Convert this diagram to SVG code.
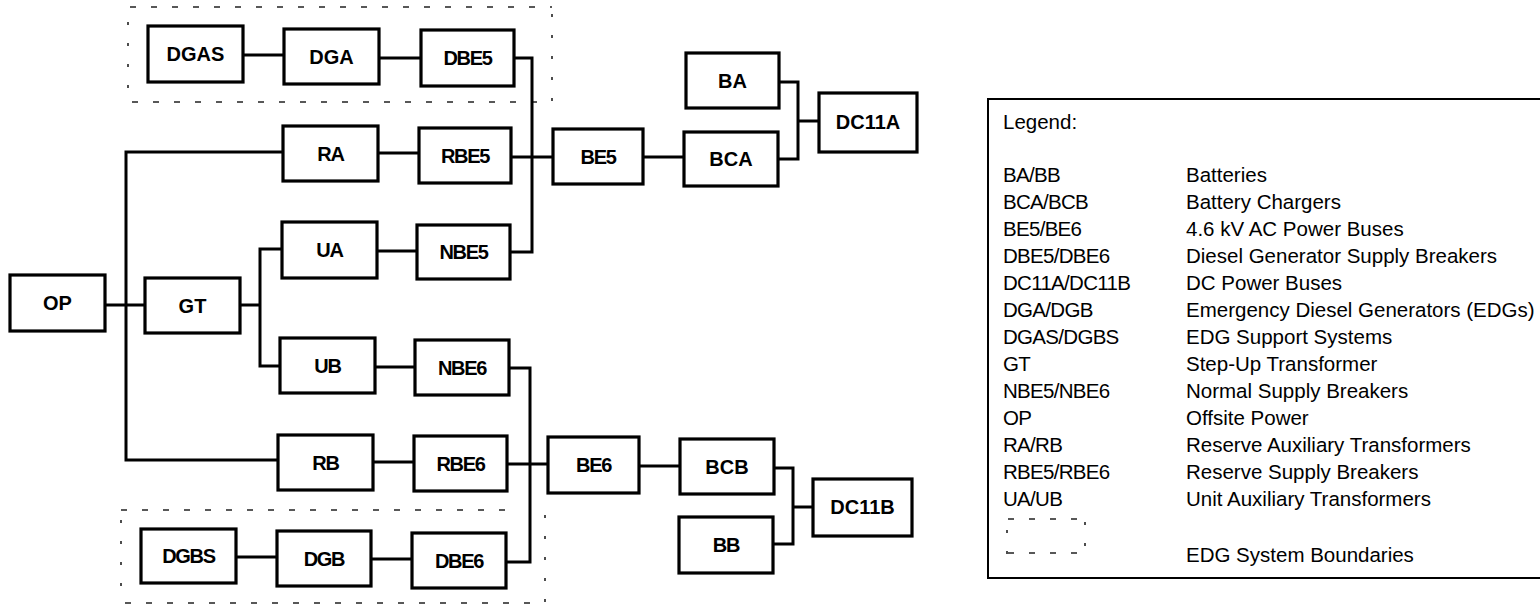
<svg xmlns="http://www.w3.org/2000/svg" width="1540" height="607" viewBox="0 0 1540 607">
<style>
.n rect{fill:#fff;stroke:#000;stroke-width:3.2}
.n text{font-family:"Liberation Sans",Arial,sans-serif;font-weight:bold;font-size:20px;text-anchor:middle;fill:#000}
.t{letter-spacing:-1.3px}
.c{fill:none;stroke:#000;stroke-width:3}
.dh{stroke:#222;stroke-width:1.6;stroke-dasharray:6 15;fill:none}
.dv{stroke:#222;stroke-width:1.6;stroke-dasharray:3 18;fill:none}
.lg text{font-family:"Liberation Sans",Arial,sans-serif;font-size:20.5px;fill:#000}
.lg .k{letter-spacing:-0.7px}
</style>
<rect width="1540" height="607" fill="#fff"/>
<g id="boundaries">
<line class="dh" x1="130" y1="7" x2="552" y2="7"/>
<line class="dh" x1="132" y1="102" x2="552" y2="102"/>
<line class="dv" x1="128" y1="22" x2="128" y2="95"/>
<line class="dv" x1="552" y1="14" x2="552" y2="102"/>
<line class="dh" x1="121" y1="510" x2="510" y2="510"/>
<line class="dh" x1="125" y1="603" x2="545" y2="603"/>
<line class="dv" x1="121" y1="520" x2="121" y2="600"/>
<line class="dv" x1="545" y1="515" x2="545" y2="603"/>
</g>
<g id="connectors">
<path class="c" d="M243 55H284"/>
<path class="c" d="M379 58H421"/>
<path class="c" d="M514 58H532V252H510"/>
<path class="c" d="M378 153H419"/>
<path class="c" d="M511 157H553"/>
<path class="c" d="M377 251H417"/>
<path class="c" d="M105 305H145"/>
<path class="c" d="M283 152H126V460H278"/>
<path class="c" d="M240 305H260"/>
<path class="c" d="M282 249H260V366H280"/>
<path class="c" d="M375 367H415"/>
<path class="c" d="M509 368H530V562H506"/>
<path class="c" d="M507 464H548"/>
<path class="c" d="M373 462H414"/>
<path class="c" d="M236 557H277"/>
<path class="c" d="M371 559H412"/>
<path class="c" d="M643 157H684"/>
<path class="c" d="M779 82H798V159H778"/>
<path class="c" d="M798 121H819"/>
<path class="c" d="M639 466H680"/>
<path class="c" d="M774 468H793V544H773"/>
<path class="c" d="M793 507H813"/>
</g>
<g id="DGAS" class="n"><rect x="148" y="26" width="95" height="56"/><text x="195.5" y="61">DGAS</text></g>
<g id="DGA" class="n"><rect x="284" y="29" width="95" height="55"/><text x="331.5" y="64">DGA</text></g>
<g id="DBE5" class="n"><rect x="421" y="30" width="93" height="56"/><text class="t" x="467.5" y="65">DBE5</text></g>
<g id="RA" class="n"><rect x="283" y="126" width="95" height="55"/><text class="t" x="330.5" y="161">RA</text></g>
<g id="RBE5" class="n"><rect x="419" y="128" width="92" height="55"/><text class="t" x="465" y="163">RBE5</text></g>
<g id="UA" class="n"><rect x="282" y="222" width="95" height="56"/><text class="t" x="329.5" y="257">UA</text></g>
<g id="NBE5" class="n"><rect x="417" y="225" width="93" height="54"/><text class="t" x="463.5" y="259">NBE5</text></g>
<g id="OP" class="n"><rect x="10" y="275" width="95" height="56"/><text x="57.5" y="310">OP</text></g>
<g id="GT" class="n"><rect x="145" y="278" width="95" height="55"/><text x="192.5" y="313">GT</text></g>
<g id="UB" class="n"><rect x="280" y="338" width="95" height="55"/><text class="t" x="327.5" y="373">UB</text></g>
<g id="NBE6" class="n"><rect x="415" y="340" width="94" height="55"/><text class="t" x="462" y="375">NBE6</text></g>
<g id="RB" class="n"><rect x="278" y="435" width="95" height="55"/><text class="t" x="325.5" y="470">RB</text></g>
<g id="RBE6" class="n"><rect x="414" y="436" width="93" height="55"/><text class="t" x="460.5" y="471">RBE6</text></g>
<g id="DGBS" class="n"><rect x="141" y="529" width="95" height="54"/><text class="t" x="188.5" y="563">DGBS</text></g>
<g id="DGB" class="n"><rect x="277" y="531" width="94" height="55"/><text class="t" x="324" y="566">DGB</text></g>
<g id="DBE6" class="n"><rect x="412" y="533" width="94" height="55"/><text class="t" x="459" y="568">DBE6</text></g>
<g id="BA" class="n"><rect x="686" y="53" width="93" height="55"/><text x="732.5" y="88">BA</text></g>
<g id="DC11A" class="n"><rect x="819" y="93" width="98" height="59"/><text x="868" y="129">DC11A</text></g>
<g id="BE5" class="n"><rect x="553" y="129" width="90" height="55"/><text class="t" x="598" y="164">BE5</text></g>
<g id="BCA" class="n"><rect x="684" y="132" width="94" height="54"/><text x="731" y="166">BCA</text></g>
<g id="BE6" class="n"><rect x="548" y="437" width="91" height="56"/><text class="t" x="593.5" y="472">BE6</text></g>
<g id="BCB" class="n"><rect x="680" y="439" width="94" height="55"/><text x="727" y="474">BCB</text></g>
<g id="DC11B" class="n"><rect x="813" y="479" width="99" height="57"/><text x="862.5" y="514">DC11B</text></g>
<g id="BB" class="n"><rect x="679" y="517" width="94" height="56"/><text class="t" x="726" y="552">BB</text></g>
<g id="legend" class="lg">
<rect x="988" y="99" width="600" height="479" fill="none" stroke="#000" stroke-width="2"/>
<text x="1003" y="129">Legend:</text>
<text class="k" x="1003" y="182">BA/BB</text><text x="1186" y="182">Batteries</text>
<text class="k" x="1003" y="209">BCA/BCB</text><text x="1186" y="209">Battery Chargers</text>
<text class="k" x="1003" y="236">BE5/BE6</text><text x="1186" y="236">4.6 kV AC Power Buses</text>
<text class="k" x="1003" y="263">DBE5/DBE6</text><text x="1186" y="263">Diesel Generator Supply Breakers</text>
<text class="k" x="1003" y="290">DC11A/DC11B</text><text x="1186" y="290">DC Power Buses</text>
<text class="k" x="1003" y="317">DGA/DGB</text><text x="1186" y="317">Emergency Diesel Generators (EDGs)</text>
<text class="k" x="1003" y="344">DGAS/DGBS</text><text x="1186" y="344">EDG Support Systems</text>
<text class="k" x="1003" y="371">GT</text><text x="1186" y="371">Step-Up Transformer</text>
<text class="k" x="1003" y="398">NBE5/NBE6</text><text x="1186" y="398">Normal Supply Breakers</text>
<text class="k" x="1003" y="425">OP</text><text x="1186" y="425">Offsite Power</text>
<text class="k" x="1003" y="452">RA/RB</text><text x="1186" y="452">Reserve Auxiliary Transformers</text>
<text class="k" x="1003" y="479">RBE5/RBE6</text><text x="1186" y="479">Reserve Supply Breakers</text>
<text class="k" x="1003" y="506">UA/UB</text><text x="1186" y="506">Unit Auxiliary Transformers</text>
<line class="dh" x1="1008" y1="519" x2="1080" y2="519"/>
<line class="dh" x1="1008" y1="553" x2="1080" y2="553"/>
<line class="dv" x1="1007" y1="530" x2="1007" y2="556"/>
<line class="dv" x1="1085" y1="522" x2="1085" y2="556"/>
<text x="1186" y="562">EDG System Boundaries</text>
</g>
</svg>
